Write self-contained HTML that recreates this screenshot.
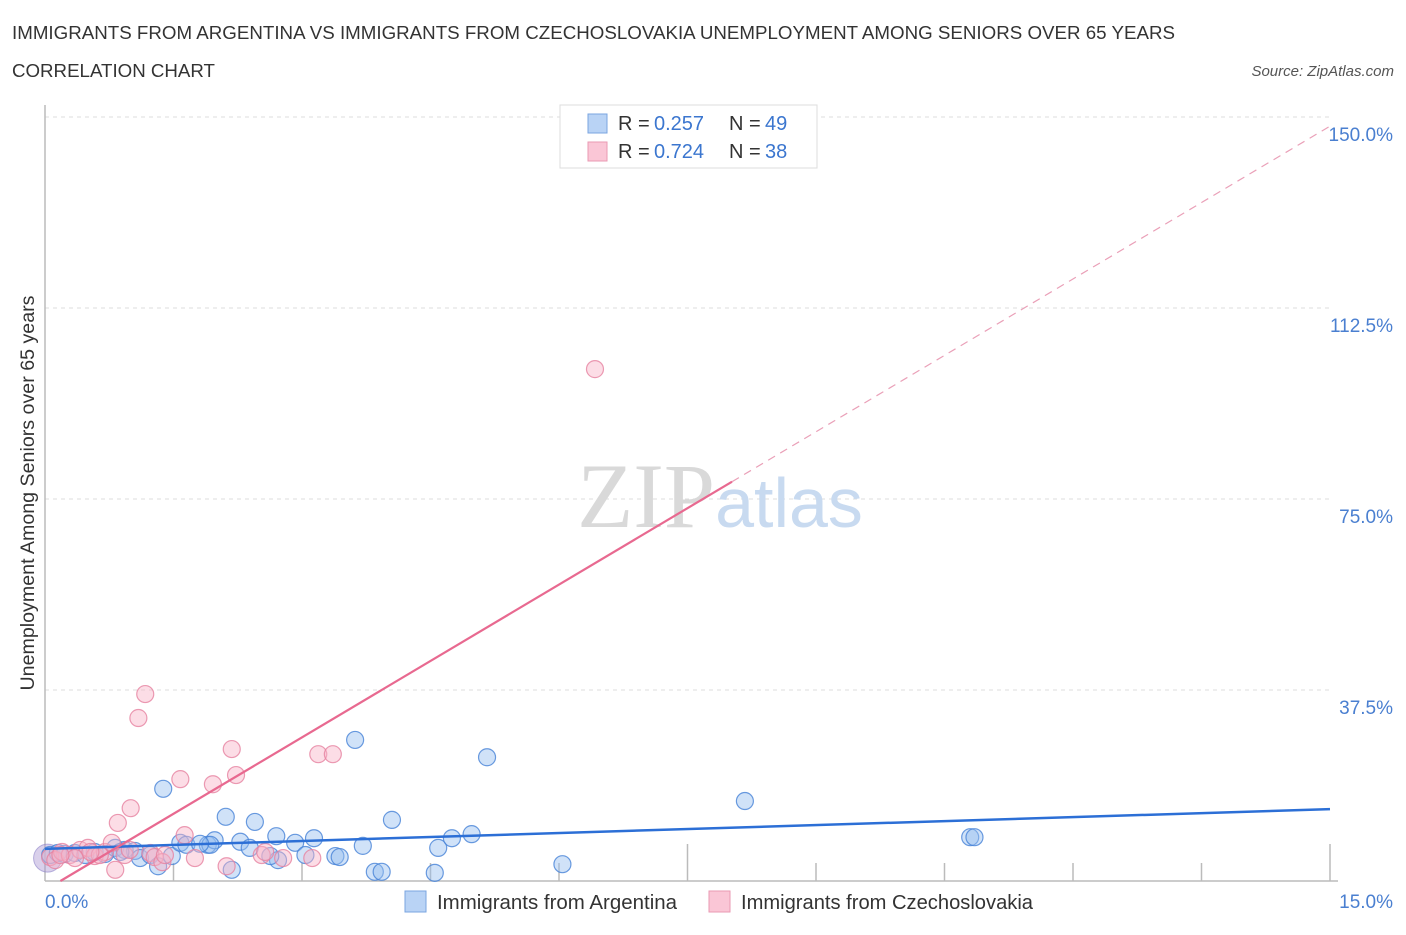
<!DOCTYPE html>
<html><head><meta charset="utf-8"><style>
body{margin:0;background:#fff;font-family:"Liberation Sans",sans-serif;}
</style></head><body>
<svg width="1406" height="930" xmlns="http://www.w3.org/2000/svg" font-family="Liberation Sans, sans-serif">
<text x="12" y="39" font-size="18.6" fill="#333" textLength="1163" lengthAdjust="spacingAndGlyphs">IMMIGRANTS FROM ARGENTINA VS IMMIGRANTS FROM CZECHOSLOVAKIA UNEMPLOYMENT AMONG SENIORS OVER 65 YEARS</text>
<text x="12" y="77" font-size="18.6" fill="#333" textLength="203" lengthAdjust="spacingAndGlyphs">CORRELATION CHART</text>
<text x="1394" y="76" font-size="15" fill="#555" font-style="italic" text-anchor="end">Source: ZipAtlas.com</text>
<g id="grid"></g>
<text x="720" y="527" font-size="92" text-anchor="middle" font-family="Liberation Serif, serif" fill="#ddd"><tspan fill="#d9d9d9">ZIP</tspan><tspan fill="#c8daf0" font-family="Liberation Sans, sans-serif" font-size="70">atlas</tspan></text>
<g id="points"></g>
<g id="lines"></g>
<text transform="translate(34,493) rotate(-90)" font-size="19" fill="#333" text-anchor="middle" textLength="395" lengthAdjust="spacingAndGlyphs">Unemployment Among Seniors over 65 years</text>
<text x="45" y="908" font-size="19" fill="#4a7fd0">0.0%</text>
<text x="1393" y="908" font-size="19" fill="#4a7fd0" text-anchor="end">15.0%</text>
<g>
<rect x="560" y="105" width="257" height="63" fill="#fff" stroke="#ddd"/>
<rect x="588" y="114" width="19" height="19" fill="#b9d3f5" stroke="#7aa5e0"/>
<rect x="588" y="142" width="19" height="19" fill="#fac6d6" stroke="#ea9ab3"/>
<text x="618" y="130" font-size="20" fill="#333">R =</text>
<text x="654" y="130" font-size="20" fill="#3b76cf">0.257</text>
<text x="729" y="130" font-size="20" fill="#333">N =</text>
<text x="765" y="130" font-size="20" fill="#3b76cf">49</text>
<text x="618" y="158" font-size="20" fill="#333">R =</text>
<text x="654" y="158" font-size="20" fill="#3b76cf">0.724</text>
<text x="729" y="158" font-size="20" fill="#333">N =</text>
<text x="765" y="158" font-size="20" fill="#3b76cf">38</text>
</g>
<g>
<rect x="405" y="891" width="21" height="21" fill="#b9d3f5" stroke="#7aa5e0"/>
<text x="437" y="909" font-size="20" fill="#333" textLength="240" lengthAdjust="spacingAndGlyphs">Immigrants from Argentina</text>
<rect x="709" y="891" width="21" height="21" fill="#fac6d6" stroke="#ea9ab3"/>
<text x="741" y="909" font-size="20" fill="#333" textLength="292" lengthAdjust="spacingAndGlyphs">Immigrants from Czechoslovakia</text>
</g>
</svg>
<script>
const yTicks=[37.5,75,112.5,150];
const yTickLabels=["37.5%","75.0%","112.5%","150.0%"];
const xTicks=[1.5,3,4.5,6,7.5,9,10.5,12,13.5,15];
const xMajorTicks=[7.5,15];
const argX=[0.06,0.15,0.23,0.35,0.47,0.58,0.70,0.82,0.93,1.05,1.11,1.23,1.32,1.38,1.48,1.58,1.65,1.90,1.98,2.11,2.18,2.28,2.39,2.45,2.70,2.72,2.92,3.04,3.14,3.39,3.44,3.62,3.71,3.85,3.93,4.05,4.55,4.59,4.75,4.98,5.16,6.04,8.17,10.80,10.85,1.93,0.88,2.63,1.81];
const argY=[5.1,5.5,5.3,5.5,5.1,5.7,5.3,6.5,6.1,5.9,4.5,5.1,2.9,18.1,4.9,7.5,7.1,7.1,8.0,12.6,2.2,7.7,6.5,11.6,8.8,4.1,7.5,5.1,8.4,4.9,4.7,27.7,6.9,1.8,1.8,12.0,1.6,6.5,8.4,9.2,24.3,3.3,15.7,8.6,8.6,7.1,5.7,4.9,7.3];
const czX=[0.06,0.12,0.20,0.29,0.41,0.50,0.58,0.70,0.78,0.82,0.85,0.93,1.00,1.09,1.17,1.23,1.28,1.37,1.58,1.63,1.75,1.96,2.12,2.18,2.23,2.53,2.57,2.78,3.12,3.19,3.36,6.42,0.64,0.35,0.18,0.99,1.40,0.53];
const czY=[4.7,4.1,5.7,5.1,6.1,6.5,4.9,5.7,7.5,2.2,11.4,5.1,14.3,32.0,36.7,5.5,4.7,3.7,20.0,9.0,4.5,19.0,2.9,25.9,20.8,5.1,5.7,4.5,4.5,24.9,24.9,100.5,5.1,4.5,5.1,6.1,5.1,5.7];
const argTrend=[6.3,14.1];
const czTrend=[-1.8,148.2];
const X0=45,X1=1330,Y0=881,Y1=117;
const sx=v=>X0+v/15*(X1-X0), sy=v=>Y0-v/150*(Y0-Y1);
const NS="http://www.w3.org/2000/svg";
function mk(tag,attrs,parent){const e=document.createElementNS(NS,tag);for(const k in attrs)e.setAttribute(k,attrs[k]);parent.appendChild(e);return e;}
const grid=document.getElementById('grid');
yTicks.forEach((t,i)=>{
 const l=mk('line',{x1:X0,x2:X1,y1:sy(t),y2:sy(t),stroke:'#ddd','stroke-dasharray':'4,4'},grid);
 
 
 const tx=mk('text',{x:1393,y:sy(t)+24,'font-size':19,fill:'#4a7fd0','text-anchor':'end'},grid);
 tx.textContent=yTickLabels[i];
 
 
});
const ax=mk('line',{x1:X0,x2:X0,y1:105,y2:Y0,stroke:'#bbb','stroke-width':1.5},grid);


const bx=mk('line',{x1:X0,x2:X1+8,y1:Y0,y2:Y0,stroke:'#bbb','stroke-width':1.5},grid);


xTicks.forEach(t=>{
 const h=xMajorTicks.includes(t)?37:18;
 const l=mk('line',{x1:sx(t),x2:sx(t),y1:Y0-h,y2:Y0,stroke:'#bbb','stroke-width':1.5},grid);
 
 
});
const pts=document.getElementById('points');
const big=mk('circle',{cx:sx(0.03),cy:sy(4.5),r:14,fill:'rgba(170,150,210,0.45)',stroke:'rgba(140,130,200,0.6)'},pts);


argX.forEach((v,i)=>{
 const c=mk('circle',{cx:sx(v),cy:sy(argY[i]),r:8.5,fill:'rgba(150,190,240,0.45)',stroke:'rgba(70,130,215,0.8)','stroke-width':1.2},pts);
 
 
});
czX.forEach((v,i)=>{
 const c=mk('circle',{cx:sx(v),cy:sy(czY[i]),r:8.5,fill:'rgba(248,180,200,0.45)',stroke:'rgba(230,130,160,0.8)','stroke-width':1.2},pts);
 
 
});
const lines=document.getElementById('lines');
const bl=mk('line',{x1:sx(0),y1:sy(argTrend[0]),x2:sx(15),y2:sy(argTrend[1]),stroke:'#2c6fd6','stroke-width':2.5},lines);


const czAt=v=>czTrend[0]+(czTrend[1]-czTrend[0])*v/15;
const xs=-czTrend[0]/((czTrend[1]-czTrend[0])/15);
const pl=mk('line',{x1:sx(xs),y1:sy(0),x2:sx(8.02),y2:sy(czAt(8.02)),stroke:'#e86990','stroke-width':2.2},lines);


const pd=mk('line',{x1:sx(8.02),y1:sy(czAt(8.02)),x2:sx(15),y2:sy(czAt(15)),stroke:'#eaa0b8','stroke-width':1.2,'stroke-dasharray':'8,6'},lines);


</script>
</body></html>
